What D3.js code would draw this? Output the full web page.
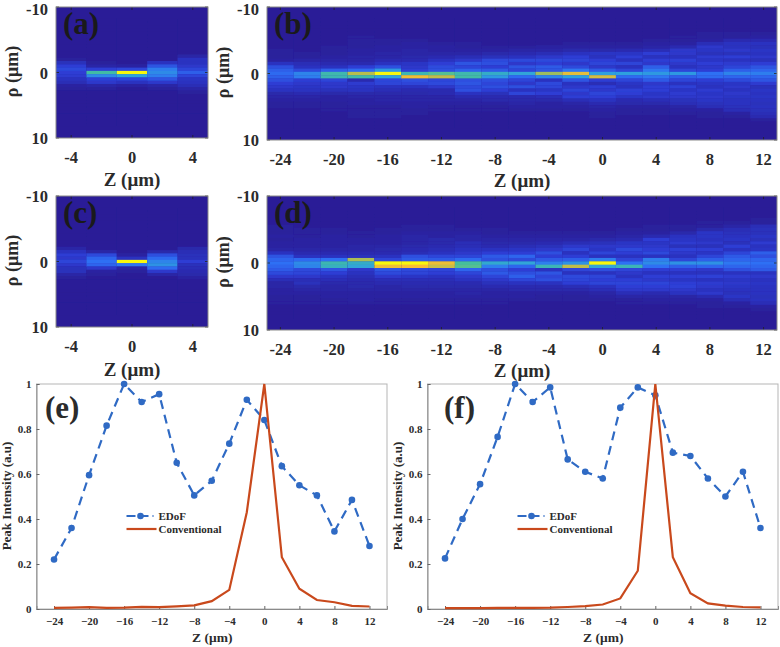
<!DOCTYPE html>
<html>
<head>
<meta charset="utf-8">
<style type="text/css">
	body { margin: 0; background: #fff; }
	text { font-family: "Liberation Serif", serif; font-weight: bold; fill: #2b2b2b; }
</style>
</head>
<body>
<script src="https://d3js.org/d3.v7.min.js"></script>
<script type="text/javascript">
// rows of the heat maps go from rho = -8 to +8 by 0.5, values in percent
var shortZ = [-4, -2, 0, 2, 4];
var longZ = [-24, -22, -20, -18, -16, -14, -12, -10, -8, -6, -4, -2, 0, 2, 4, 6, 8, 10, 12];

var heatA = [
	[0,0,0,0,0,0,0,0,0,0,0,0,1,7,12,16,12,11,8,6,2,1,0,0,0,0,0,0,0,0,0,0,0],
	[0,0,0,0,0,0,0,0,0,0,0,0,0,1,3,12,58,38,13,10,3,1,0,0,0,0,0,0,0,0,0,0,0],
	[0,0,0,0,0,0,0,0,0,0,0,0,0,0,2,14,100,45,14,8,2,0,0,0,0,0,0,0,0,0,0,0,0],
	[0,0,0,0,0,0,0,0,0,0,0,0,0,8,20,34,38,34,20,10,3,1,0,0,0,0,0,0,0,0,0,0,0],
	[0,0,0,0,0,0,0,0,0,0,0,3,8,8,10,14,24,14,9,8,6,3,1,0,0,0,0,0,0,0,0,0,0]
];
var heatC = [
	[0,0,0,0,0,0,0,0,0,0,0,0,3,8,12,10,14,10,7,7,3,1,0,0,0,0,0,0,0,0,0,0,0],
	[0,0,0,0,0,0,0,0,0,0,0,0,0,3,16,26,30,26,10,2,1,0,0,0,0,0,0,0,0,0,0,0,0],
	[0,0,0,0,0,0,0,0,0,0,0,0,0,0,2,8,100,32,3,1,0,0,0,0,0,0,0,0,0,0,0,0,0],
	[0,0,0,0,0,0,0,0,0,0,0,0,0,4,18,28,36,40,28,10,3,0,0,0,0,0,0,0,0,0,0,0,0],
	[0,0,0,0,0,0,0,0,0,0,0,0,4,6,7,7,12,7,6,5,4,2,0,0,0,0,0,0,0,0,0,0,0]
];
var heatB = [
	[0,0,0,0,0,0,0,0,0,1,1,1,2,8,18,24,28,24,18,12,10,8,4,3,2,1,1,0,0,0,0,0,0],
	[0,0,0,0,0,0,0,0,0,0,1,1,3,6,8,16,36,34,12,10,9,8,5,3,2,1,1,0,0,0,0,0,0],
	[0,0,0,0,0,0,0,0,1,1,1,2,3,5,8,24,56,55,14,10,10,7,4,2,2,1,1,1,0,0,0,0,0],
	[0,0,0,0,0,1,1,1,1,2,2,3,3,5,12,28,76,58,5,11,9,8,4,3,2,2,1,1,1,1,0,0,0],
	[0,0,0,0,0,0,1,1,2,2,3,3,5,8,18,42,100,46,14,14,8,6,4,3,3,2,1,1,1,1,0,0,0],
	[0,0,0,0,0,0,1,2,2,3,3,4,5,9,10,12,55,88,18,14,8,5,4,3,3,2,2,1,1,0,0,0,0],
	[0,0,0,0,0,0,0,1,2,2,3,5,8,12,17,18,62,78,14,16,10,5,5,3,3,2,1,1,0,0,0,0,0],
	[0,0,0,0,0,0,0,1,1,2,3,6,10,20,14,25,56,58,18,20,16,18,8,5,3,2,1,1,0,0,0,0,0],
	[0,0,0,0,0,0,0,0,1,2,4,7,16,18,12,22,50,42,18,14,18,12,7,5,4,2,1,1,0,0,0,0,0],
	[0,0,0,0,0,0,0,0,1,3,5,8,16,10,20,14,46,28,14,10,18,8,14,5,4,3,2,1,0,0,0,0,0],
	[0,0,0,0,0,0,0,0,2,3,6,10,16,12,22,20,72,36,8,16,14,9,12,6,4,2,2,1,0,0,0,0,0],
	[0,0,0,0,0,0,0,1,2,4,8,12,14,10,16,32,86,44,20,8,10,14,10,12,6,3,2,1,0,0,0,0,0],
	[0,0,0,0,0,0,0,1,2,4,9,8,12,14,10,22,44,82,12,6,12,10,14,12,8,5,3,2,1,1,0,0,0],
	[0,0,0,0,0,0,0,1,2,5,9,12,8,14,8,14,44,28,14,9,8,13,12,9,5,4,2,1,1,0,0,0,0],
	[0,0,0,0,0,0,1,2,3,6,12,8,12,10,24,32,42,32,22,10,12,12,9,10,6,4,2,1,1,0,0,0,0],
	[0,0,0,0,0,1,1,2,5,10,10,8,13,10,8,14,42,24,14,8,13,9,11,10,7,6,3,2,1,0,0,0,0],
	[0,0,0,0,1,1,2,6,10,9,7,11,9,12,10,12,30,28,12,9,8,11,9,10,9,7,6,2,1,1,0,0,0],
	[0,0,0,0,1,1,5,8,8,10,7,12,8,11,14,24,36,26,16,9,10,8,10,9,8,8,7,6,2,1,0,0,0],
	[0,0,0,0,1,2,5,8,7,9,8,10,7,12,20,26,34,26,20,11,7,9,8,9,8,7,8,7,6,5,1,0,0]
];
var heatD = [
	[0,0,0,0,0,1,1,1,2,1,2,2,3,8,20,26,30,26,22,16,10,6,3,3,2,2,1,1,1,0,0,0,0],
	[0,0,0,0,0,0,1,1,1,2,2,2,3,5,8,28,38,36,16,14,10,6,7,4,3,2,1,1,1,0,0,0,0],
	[0,0,0,0,0,0,1,1,2,2,2,2,3,5,8,30,55,52,20,12,8,6,4,3,3,2,2,1,1,0,0,0,0],
	[0,0,0,0,0,0,0,1,1,2,2,3,3,5,7,74,50,46,10,8,6,5,4,4,3,2,2,2,1,0,0,0,0],
	[0,0,0,0,0,0,1,1,2,2,2,3,4,5,8,14,100,88,20,16,10,6,5,3,3,2,2,1,1,0,0,0,0],
	[0,0,0,0,0,1,1,2,3,3,3,4,5,6,18,22,100,90,16,14,9,6,5,4,3,2,2,1,1,0,0,0,0],
	[0,0,0,0,0,1,1,2,2,4,4,5,6,8,14,22,88,80,14,12,8,6,5,4,3,2,2,1,1,0,0,0,0],
	[0,0,0,0,0,0,1,2,3,3,6,6,8,10,14,28,60,62,26,14,10,8,5,4,3,3,2,1,1,0,0,0,0],
	[0,0,0,0,0,0,1,1,2,3,4,5,8,12,22,18,48,34,18,22,14,10,7,5,3,2,2,1,1,0,0,0,0],
	[0,0,0,0,0,0,0,1,2,3,4,6,9,12,26,16,46,26,12,18,24,14,8,5,4,2,2,1,0,0,0,0,0],
	[0,0,0,0,0,0,0,1,2,3,5,7,10,18,12,22,34,54,8,20,14,18,8,5,4,2,1,1,0,0,0,0,0],
	[0,0,0,0,0,0,0,1,2,3,6,10,14,8,12,24,40,78,14,8,16,14,12,6,4,2,1,1,0,0,0,0,0],
	[0,0,0,0,0,0,0,1,2,4,7,10,9,14,8,34,100,46,18,8,14,12,14,8,6,3,2,1,0,0,0,0,0],
	[0,0,0,0,0,0,1,2,3,5,9,10,16,12,8,14,30,54,14,10,8,12,14,12,10,6,3,1,1,0,0,0,0],
	[0,0,0,0,0,1,1,2,5,12,9,10,12,16,8,34,38,30,12,8,12,10,14,12,10,5,3,2,1,0,0,0,0],
	[0,0,0,0,0,1,1,4,8,9,11,7,13,10,8,14,40,24,12,8,12,9,12,13,10,8,3,2,1,0,0,0,0],
	[0,0,0,0,1,1,4,9,9,8,10,7,12,9,14,24,40,26,10,8,13,8,11,10,8,10,5,2,1,1,0,0,0],
	[0,0,0,0,1,3,6,7,8,9,7,12,8,14,22,26,32,26,18,8,11,9,10,9,8,7,9,6,2,1,0,0,0],
	[0,0,0,1,1,6,7,7,9,7,11,8,9,24,18,26,30,26,22,8,10,8,9,8,8,8,7,8,6,2,1,0,0]
];
var rhoRows = d3.range(33).map(function (i) { return -8 + i * 0.5; });

var zPoints = [-24, -22, -20, -18, -16, -14, -12, -10, -8, -6, -4, -2, 0, 2, 4, 6, 8, 10, 12];
var edofE = [0.22, 0.36, 0.595, 0.815, 1, 0.92, 0.955, 0.65, 0.505, 0.57, 0.735, 0.93, 0.84, 0.635, 0.55, 0.505, 0.345, 0.485, 0.28];
var convE = [0.005, 0.006, 0.008, 0.005, 0.006, 0.009, 0.008, 0.012, 0.016, 0.035, 0.085, 0.43, 1, 0.23, 0.09, 0.04, 0.03, 0.014, 0.011];
var edofF = [0.225, 0.4, 0.555, 0.765, 1, 0.92, 0.985, 0.665, 0.61, 0.58, 0.895, 0.985, 0.95, 0.695, 0.68, 0.58, 0.5, 0.61, 0.36];
var convF = [0.004, 0.004, 0.004, 0.005, 0.005, 0.005, 0.006, 0.009, 0.013, 0.02, 0.047, 0.17, 1, 0.23, 0.07, 0.025, 0.015, 0.009, 0.007];

var shortTicks = [-4, 0, 4];
var longTicks = [-24, -20, -16, -12, -8, -4, 0, 4, 8, 12];
var rhoTicks = [-10, 0, 10];
var lineXTicks = [-24, -20, -16, -12, -8, -4, 0, 4, 8, 12];
var lineYTicks = [0, 0.2, 0.4, 0.6, 0.8, 1];

var color = d3.scaleLinear()
	.domain([0, 12, 30, 45, 60, 75, 90, 100])
	.range(["#2a1e97", "#2d3ed4", "#2f70f4", "#2ea3dc", "#45bf9c", "#b3bd50", "#f6be32", "#f8f80f"])
	.clamp(true);

var svg = d3.select("body").append("svg").attr("width", 780).attr("height", 647);
svg.append("defs").append("filter").attr("id", "soft")
	.attr("x", 0).attr("y", 0).attr("width", 1).attr("height", 1)
	.append("feGaussianBlur").attr("stdDeviation", 0.6);

function heatPanel(o) {
	var x = d3.scaleLinear().domain(o.zDomain).range([o.left, o.right]);
	var y = d3.scaleLinear().domain([-10, 10]).range([o.top, o.bottom]);
	var g = svg.append("g");
	var h = g.append("g").attr("filter", "url(#soft)");
	h.append("rect")
		.attr("x", o.left).attr("y", o.top)
		.attr("width", o.right - o.left).attr("height", o.bottom - o.top)
		.attr("fill", color(0));
	o.zs.forEach(function (z, i) {
		h.selectAll(null)
			.data(o.data[i])
			.enter()
			.append("rect")
			.attr("x", x(Math.max(z - 1, o.zDomain[0])))
			.attr("width", x(Math.min(z + 1, o.zDomain[1])) - x(Math.max(z - 1, o.zDomain[0])))
			.attr("y", function (d, j) { return y(rhoRows[j] - 0.25); })
			.attr("height", y(0.5) - y(0) + 0.3)
			.attr("fill", function (d) { return color(d); });
	});
	// inward ticks on all four sides, like matlab
	g.selectAll(null).data(o.ticks).enter().append("path")
		.attr("d", function (d) {
			return "M" + x(d) + "," + o.top + "v3M" + x(d) + "," + o.bottom + "v-3";
		})
		.attr("stroke", "#222").attr("stroke-width", 0.8);
	g.selectAll(null).data(rhoTicks).enter().append("path")
		.attr("d", function (d) {
			return "M" + o.left + "," + y(d) + "h3M" + o.right + "," + y(d) + "h-3";
		})
		.attr("stroke", "#222").attr("stroke-width", 0.8);
	g.append("rect")
		.attr("x", o.left).attr("y", o.top)
		.attr("width", o.right - o.left).attr("height", o.bottom - o.top)
		.attr("fill", "none").attr("stroke", "#8a8a8a");

	g.selectAll(null).data(o.ticks).enter().append("text")
		.attr("x", function (d) { return x(d); })
		.attr("y", o.bottom + 25)
		.attr("text-anchor", "middle")
		.style("font-size", "16.5px")
		.text(function (d) { return d; });
	g.selectAll(null).data(rhoTicks).enter().append("text")
		.attr("x", o.left - 8)
		.attr("y", function (d) { return Math.max(y(d) + 6, 14.8); })
		.attr("text-anchor", "end")
		.style("font-size", "16.5px")
		.text(function (d) { return d; });
	g.append("text")
		.attr("x", o.zLabelX).attr("y", o.zLabelY)
		.attr("text-anchor", "middle")
		.style("font-size", "19px")
		.text("Z (\u03bcm)");
	g.append("text")
		.attr("transform", "translate(" + (o.left - 38) + "," + (y(0) - 1) + ") rotate(-90)")
		.attr("text-anchor", "middle")
		.style("font-size", "18px")
		.text("\u03c1 (\u03bcm)");
	g.append("text")
		.attr("x", o.left + 7).attr("y", o.top + 27)
		.style("font-size", "31px")
		.style("fill", "#1a1a1a")
		.text(o.name);
}

function linePanel(o) {
	var x = d3.scaleLinear().domain([-26, 14]).range([o.left, o.right]);
	var y = d3.scaleLinear().domain([0, 1]).range([609, 384]);
	var g = svg.append("g");
	g.append("rect")
		.attr("x", o.left).attr("y", 384)
		.attr("width", o.right - o.left).attr("height", 225)
		.attr("fill", "none").attr("stroke", "#b5b5b5").attr("stroke-width", 1);

	var xAxis = g.append("g").attr("transform", "translate(0,609)")
		.call(d3.axisBottom(x).tickValues(lineXTicks).tickSize(-3).tickPadding(8));
	var yAxis = g.append("g").attr("transform", "translate(" + o.left + ",0)")
		.call(d3.axisLeft(y).tickValues(lineYTicks).tickSize(-3).tickPadding(5).tickFormat(function (d) { return d; }));
	[xAxis, yAxis].forEach(function (a) {
		a.select(".domain").attr("stroke", "#8a8a8a");
		a.selectAll(".tick line").attr("stroke", "#666");
		a.selectAll("text").style("font-size", "11px")
			.style("font-family", '"Liberation Serif", serif').attr("fill", "#2b2b2b");
	});

	var line = d3.line()
		.x(function (d, i) { return x(zPoints[i]); })
		.y(function (d) { return y(d); });
	g.append("path").datum(o.edof).attr("d", line)
		.attr("fill", "none").attr("stroke", "#2f6ac4").attr("stroke-width", 2.2).attr("stroke-dasharray", "9,6");
	g.selectAll(null).data(o.edof).enter().append("circle")
		.attr("cx", function (d, i) { return x(zPoints[i]); })
		.attr("cy", function (d) { return y(d); })
		.attr("r", 3.3)
		.attr("fill", "#2f6ac4");
	g.append("path").datum(o.conv).attr("d", line)
		.attr("fill", "none").attr("stroke", "#c9491c").attr("stroke-width", 2.2);

	g.append("text")
		.attr("x", (o.left + o.right) / 2 + 0.5).attr("y", 642)
		.attr("text-anchor", "middle").style("font-size", "13.5px")
		.text("Z (\u03bcm)");
	g.append("text")
		.attr("transform", "translate(" + (o.left - 26) + ",496) rotate(-90)")
		.attr("text-anchor", "middle").style("font-size", "13px")
		.text("Peak Intensity (a.u)");

	// legend
	var lx = o.left + 90;
	g.append("path").attr("d", "M" + lx + ",516h27")
		.attr("stroke", "#2f6ac4").attr("stroke-width", 2.2).attr("stroke-dasharray", "9,4");
	g.append("circle").attr("cx", lx + 14).attr("cy", 516).attr("r", 3.3).attr("fill", "#2f6ac4");
	g.append("path").attr("d", "M" + lx + ",529h30")
		.attr("stroke", "#c9491c").attr("stroke-width", 2.2);
	g.append("text").attr("x", lx + 32).attr("y", 519.5).style("font-size", "11px").text("EDoF");
	g.append("text").attr("x", lx + 32).attr("y", 533).style("font-size", "11px").text("Conventional");

	g.append("text")
		.attr("x", o.labelX).attr("y", 418)
		.style("font-size", "31px")
		.text(o.name);
}

heatPanel({name: "(a)", data: heatA, zs: shortZ, zDomain: [-5, 5], ticks: shortTicks, left: 56, right: 208, top: 7, bottom: 138, zLabelX: 132, zLabelY: 186});
heatPanel({name: "(b)", data: heatB, zs: longZ, zDomain: [-25, 13], ticks: longTicks, left: 267, right: 777, top: 7, bottom: 140, zLabelX: 522, zLabelY: 187});
heatPanel({name: "(c)", data: heatC, zs: shortZ, zDomain: [-5, 5], ticks: shortTicks, left: 56, right: 208, top: 196, bottom: 327, zLabelX: 132, zLabelY: 376});
heatPanel({name: "(d)", data: heatD, zs: longZ, zDomain: [-25, 13], ticks: longTicks, left: 267, right: 777, top: 196, bottom: 330, zLabelX: 522, zLabelY: 377});
linePanel({name: "(e)", edof: edofE, conv: convE, left: 36.5, right: 387, labelX: 45});
linePanel({name: "(f)", edof: edofF, conv: convF, left: 427.5, right: 778, labelX: 444});
</script>
</body>
</html>
